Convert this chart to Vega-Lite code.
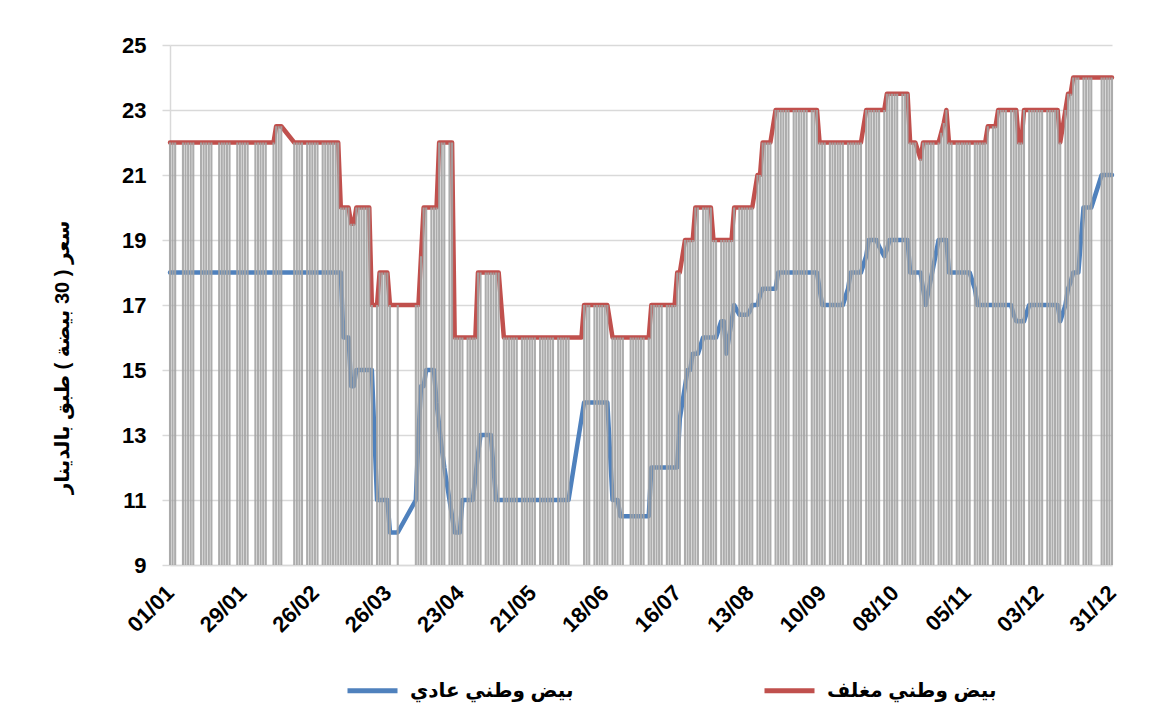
{
  "$schema": "https://vega.github.io/schema/vega-lite/v6.json",
  "width": 942,
  "height": 520,
  "autosize": {"type": "none"},
  "padding": {"left": 170, "top": 45, "right": 38, "bottom": 163},
  "background": "white",
  "config": {
    "view": {"stroke": null},
    "font": "Liberation Sans, DejaVu Sans, sans-serif"
  },
  "data": {
    "values": [
      {"date": "2019-01-01", "regular": 18, "packaged": 22},
      {"date": "2019-01-02", "regular": 18, "packaged": 22},
      {"date": "2019-01-03", "regular": 18, "packaged": 22},
      {"date": "2019-01-06", "regular": 18, "packaged": 22},
      {"date": "2019-01-07", "regular": 18, "packaged": 22},
      {"date": "2019-01-08", "regular": 18, "packaged": 22},
      {"date": "2019-01-09", "regular": 18, "packaged": 22},
      {"date": "2019-01-10", "regular": 18, "packaged": 22},
      {"date": "2019-01-13", "regular": 18, "packaged": 22},
      {"date": "2019-01-14", "regular": 18, "packaged": 22},
      {"date": "2019-01-15", "regular": 18, "packaged": 22},
      {"date": "2019-01-16", "regular": 18, "packaged": 22},
      {"date": "2019-01-17", "regular": 18, "packaged": 22},
      {"date": "2019-01-20", "regular": 18, "packaged": 22},
      {"date": "2019-01-21", "regular": 18, "packaged": 22},
      {"date": "2019-01-22", "regular": 18, "packaged": 22},
      {"date": "2019-01-23", "regular": 18, "packaged": 22},
      {"date": "2019-01-24", "regular": 18, "packaged": 22},
      {"date": "2019-01-27", "regular": 18, "packaged": 22},
      {"date": "2019-01-28", "regular": 18, "packaged": 22},
      {"date": "2019-01-29", "regular": 18, "packaged": 22},
      {"date": "2019-01-30", "regular": 18, "packaged": 22},
      {"date": "2019-01-31", "regular": 18, "packaged": 22},
      {"date": "2019-02-03", "regular": 18, "packaged": 22},
      {"date": "2019-02-04", "regular": 18, "packaged": 22},
      {"date": "2019-02-05", "regular": 18, "packaged": 22},
      {"date": "2019-02-06", "regular": 18, "packaged": 22},
      {"date": "2019-02-07", "regular": 18, "packaged": 22},
      {"date": "2019-02-10", "regular": 18, "packaged": 22},
      {"date": "2019-02-11", "regular": 18, "packaged": 22.5},
      {"date": "2019-02-12", "regular": 18, "packaged": 22.5},
      {"date": "2019-02-13", "regular": 18, "packaged": 22.5},
      {"date": "2019-02-18", "regular": 18, "packaged": 22},
      {"date": "2019-02-19", "regular": 18, "packaged": 22},
      {"date": "2019-02-20", "regular": 18, "packaged": 22},
      {"date": "2019-02-21", "regular": 18, "packaged": 22},
      {"date": "2019-02-23", "regular": 18, "packaged": 22},
      {"date": "2019-02-24", "regular": 18, "packaged": 22},
      {"date": "2019-02-25", "regular": 18, "packaged": 22},
      {"date": "2019-02-26", "regular": 18, "packaged": 22},
      {"date": "2019-02-27", "regular": 18, "packaged": 22},
      {"date": "2019-03-01", "regular": 18, "packaged": 22},
      {"date": "2019-03-02", "regular": 18, "packaged": 22},
      {"date": "2019-03-03", "regular": 18, "packaged": 22},
      {"date": "2019-03-04", "regular": 18, "packaged": 22},
      {"date": "2019-03-05", "regular": 18, "packaged": 22},
      {"date": "2019-03-06", "regular": 18, "packaged": 22},
      {"date": "2019-03-07", "regular": 18, "packaged": 22},
      {"date": "2019-03-08", "regular": 18, "packaged": 20},
      {"date": "2019-03-09", "regular": 16, "packaged": 20},
      {"date": "2019-03-10", "regular": 16, "packaged": 20},
      {"date": "2019-03-11", "regular": 16, "packaged": 20},
      {"date": "2019-03-12", "regular": 14.5, "packaged": 19.5},
      {"date": "2019-03-13", "regular": 14.5, "packaged": 19.5},
      {"date": "2019-03-14", "regular": 15, "packaged": 20},
      {"date": "2019-03-15", "regular": 15, "packaged": 20},
      {"date": "2019-03-16", "regular": 15, "packaged": 20},
      {"date": "2019-03-17", "regular": 15, "packaged": 20},
      {"date": "2019-03-18", "regular": 15, "packaged": 20},
      {"date": "2019-03-19", "regular": 15, "packaged": 20},
      {"date": "2019-03-20", "regular": 15, "packaged": 17},
      {"date": "2019-03-22", "regular": 11, "packaged": 17},
      {"date": "2019-03-23", "regular": 11, "packaged": 18},
      {"date": "2019-03-24", "regular": 11, "packaged": 18},
      {"date": "2019-03-25", "regular": 11, "packaged": 18},
      {"date": "2019-03-26", "regular": 11, "packaged": 18},
      {"date": "2019-03-27", "regular": 10, "packaged": 17},
      {"date": "2019-03-30", "regular": 10, "packaged": 17},
      {"date": "2019-04-06", "regular": 11, "packaged": 17},
      {"date": "2019-04-07", "regular": 13, "packaged": 17},
      {"date": "2019-04-08", "regular": 14.5, "packaged": 18.5},
      {"date": "2019-04-09", "regular": 14.5, "packaged": 20},
      {"date": "2019-04-10", "regular": 15, "packaged": 20},
      {"date": "2019-04-12", "regular": 15, "packaged": 20},
      {"date": "2019-04-13", "regular": 15, "packaged": 20},
      {"date": "2019-04-14", "regular": 14, "packaged": 20},
      {"date": "2019-04-15", "regular": 13.3, "packaged": 22},
      {"date": "2019-04-16", "regular": 12.6, "packaged": 22},
      {"date": "2019-04-17", "regular": 12, "packaged": 22},
      {"date": "2019-04-19", "regular": 11, "packaged": 22},
      {"date": "2019-04-20", "regular": 10.5, "packaged": 22},
      {"date": "2019-04-21", "regular": 10, "packaged": 16},
      {"date": "2019-04-22", "regular": 10, "packaged": 16},
      {"date": "2019-04-23", "regular": 10, "packaged": 16},
      {"date": "2019-04-24", "regular": 11, "packaged": 16},
      {"date": "2019-04-26", "regular": 11, "packaged": 16},
      {"date": "2019-04-27", "regular": 11, "packaged": 16},
      {"date": "2019-04-28", "regular": 11, "packaged": 16},
      {"date": "2019-04-29", "regular": 11.7, "packaged": 16},
      {"date": "2019-04-30", "regular": 12.4, "packaged": 18},
      {"date": "2019-05-01", "regular": 13, "packaged": 18},
      {"date": "2019-05-03", "regular": 13, "packaged": 18},
      {"date": "2019-05-04", "regular": 13, "packaged": 18},
      {"date": "2019-05-05", "regular": 13, "packaged": 18},
      {"date": "2019-05-06", "regular": 12, "packaged": 18},
      {"date": "2019-05-07", "regular": 11, "packaged": 18},
      {"date": "2019-05-08", "regular": 11, "packaged": 18},
      {"date": "2019-05-10", "regular": 11, "packaged": 16},
      {"date": "2019-05-11", "regular": 11, "packaged": 16},
      {"date": "2019-05-12", "regular": 11, "packaged": 16},
      {"date": "2019-05-13", "regular": 11, "packaged": 16},
      {"date": "2019-05-14", "regular": 11, "packaged": 16},
      {"date": "2019-05-15", "regular": 11, "packaged": 16},
      {"date": "2019-05-17", "regular": 11, "packaged": 16},
      {"date": "2019-05-18", "regular": 11, "packaged": 16},
      {"date": "2019-05-19", "regular": 11, "packaged": 16},
      {"date": "2019-05-20", "regular": 11, "packaged": 16},
      {"date": "2019-05-21", "regular": 11, "packaged": 16},
      {"date": "2019-05-22", "regular": 11, "packaged": 16},
      {"date": "2019-05-24", "regular": 11, "packaged": 16},
      {"date": "2019-05-25", "regular": 11, "packaged": 16},
      {"date": "2019-05-26", "regular": 11, "packaged": 16},
      {"date": "2019-05-27", "regular": 11, "packaged": 16},
      {"date": "2019-05-28", "regular": 11, "packaged": 16},
      {"date": "2019-05-29", "regular": 11, "packaged": 16},
      {"date": "2019-05-31", "regular": 11, "packaged": 16},
      {"date": "2019-06-01", "regular": 11, "packaged": 16},
      {"date": "2019-06-02", "regular": 11, "packaged": 16},
      {"date": "2019-06-03", "regular": 11, "packaged": 16},
      {"date": "2019-06-04", "regular": 11, "packaged": 16},
      {"date": "2019-06-09", "regular": null, "packaged": 16},
      {"date": "2019-06-10", "regular": 14, "packaged": 17},
      {"date": "2019-06-11", "regular": 14, "packaged": 17},
      {"date": "2019-06-12", "regular": 14, "packaged": 17},
      {"date": "2019-06-14", "regular": 14, "packaged": 17},
      {"date": "2019-06-15", "regular": 14, "packaged": 17},
      {"date": "2019-06-16", "regular": 14, "packaged": 17},
      {"date": "2019-06-17", "regular": 14, "packaged": 17},
      {"date": "2019-06-18", "regular": 14, "packaged": 17},
      {"date": "2019-06-19", "regular": 14, "packaged": 17},
      {"date": "2019-06-21", "regular": 11, "packaged": 16},
      {"date": "2019-06-22", "regular": 11, "packaged": 16},
      {"date": "2019-06-23", "regular": 11, "packaged": 16},
      {"date": "2019-06-24", "regular": 10.5, "packaged": 16},
      {"date": "2019-06-25", "regular": 10.5, "packaged": 16},
      {"date": "2019-06-28", "regular": 10.5, "packaged": 16},
      {"date": "2019-06-29", "regular": 10.5, "packaged": 16},
      {"date": "2019-06-30", "regular": 10.5, "packaged": 16},
      {"date": "2019-07-01", "regular": 10.5, "packaged": 16},
      {"date": "2019-07-02", "regular": 10.5, "packaged": 16},
      {"date": "2019-07-03", "regular": 10.5, "packaged": 16},
      {"date": "2019-07-05", "regular": 10.5, "packaged": 16},
      {"date": "2019-07-06", "regular": 12, "packaged": 17},
      {"date": "2019-07-07", "regular": 12, "packaged": 17},
      {"date": "2019-07-08", "regular": 12, "packaged": 17},
      {"date": "2019-07-09", "regular": 12, "packaged": 17},
      {"date": "2019-07-10", "regular": 12, "packaged": 17},
      {"date": "2019-07-12", "regular": 12, "packaged": 17},
      {"date": "2019-07-13", "regular": 12, "packaged": 17},
      {"date": "2019-07-14", "regular": 12, "packaged": 17},
      {"date": "2019-07-15", "regular": 12, "packaged": 17},
      {"date": "2019-07-16", "regular": 12, "packaged": 18},
      {"date": "2019-07-17", "regular": 13.5, "packaged": 18},
      {"date": "2019-07-19", "regular": 14.5, "packaged": 19},
      {"date": "2019-07-20", "regular": 15, "packaged": 19},
      {"date": "2019-07-21", "regular": 15, "packaged": 19},
      {"date": "2019-07-22", "regular": 15.5, "packaged": 19},
      {"date": "2019-07-23", "regular": 15.5, "packaged": 20},
      {"date": "2019-07-24", "regular": 15.5, "packaged": 20},
      {"date": "2019-07-26", "regular": 16, "packaged": 20},
      {"date": "2019-07-27", "regular": 16, "packaged": 20},
      {"date": "2019-07-28", "regular": 16, "packaged": 20},
      {"date": "2019-07-29", "regular": 16, "packaged": 20},
      {"date": "2019-07-30", "regular": 16, "packaged": 19},
      {"date": "2019-07-31", "regular": 16, "packaged": 19},
      {"date": "2019-08-02", "regular": 16.5, "packaged": 19},
      {"date": "2019-08-03", "regular": 16.5, "packaged": 19},
      {"date": "2019-08-04", "regular": 15.5, "packaged": 19},
      {"date": "2019-08-05", "regular": 16, "packaged": 19},
      {"date": "2019-08-06", "regular": 16.5, "packaged": 19},
      {"date": "2019-08-07", "regular": 17, "packaged": 20},
      {"date": "2019-08-09", "regular": 16.7, "packaged": 20},
      {"date": "2019-08-10", "regular": 16.7, "packaged": 20},
      {"date": "2019-08-11", "regular": 16.7, "packaged": 20},
      {"date": "2019-08-12", "regular": 16.7, "packaged": 20},
      {"date": "2019-08-13", "regular": 16.8, "packaged": 20},
      {"date": "2019-08-14", "regular": 17, "packaged": 20},
      {"date": "2019-08-16", "regular": 17, "packaged": 21},
      {"date": "2019-08-17", "regular": 17.3, "packaged": 21},
      {"date": "2019-08-18", "regular": 17.5, "packaged": 22},
      {"date": "2019-08-19", "regular": 17.5, "packaged": 22},
      {"date": "2019-08-20", "regular": 17.5, "packaged": 22},
      {"date": "2019-08-21", "regular": 17.5, "packaged": 22},
      {"date": "2019-08-23", "regular": 17.5, "packaged": 23},
      {"date": "2019-08-24", "regular": 18, "packaged": 23},
      {"date": "2019-08-25", "regular": 18, "packaged": 23},
      {"date": "2019-08-26", "regular": 18, "packaged": 23},
      {"date": "2019-08-27", "regular": 18, "packaged": 23},
      {"date": "2019-08-28", "regular": 18, "packaged": 23},
      {"date": "2019-08-30", "regular": 18, "packaged": 23},
      {"date": "2019-08-31", "regular": 18, "packaged": 23},
      {"date": "2019-09-01", "regular": 18, "packaged": 23},
      {"date": "2019-09-02", "regular": 18, "packaged": 23},
      {"date": "2019-09-03", "regular": 18, "packaged": 23},
      {"date": "2019-09-04", "regular": 18, "packaged": 23},
      {"date": "2019-09-06", "regular": 18, "packaged": 23},
      {"date": "2019-09-07", "regular": 18, "packaged": 23},
      {"date": "2019-09-08", "regular": 18, "packaged": 23},
      {"date": "2019-09-09", "regular": 17.5, "packaged": 22},
      {"date": "2019-09-10", "regular": 17, "packaged": 22},
      {"date": "2019-09-11", "regular": 17, "packaged": 22},
      {"date": "2019-09-13", "regular": 17, "packaged": 22},
      {"date": "2019-09-14", "regular": 17, "packaged": 22},
      {"date": "2019-09-15", "regular": 17, "packaged": 22},
      {"date": "2019-09-16", "regular": 17, "packaged": 22},
      {"date": "2019-09-17", "regular": 17, "packaged": 22},
      {"date": "2019-09-18", "regular": 17, "packaged": 22},
      {"date": "2019-09-20", "regular": 17.5, "packaged": 22},
      {"date": "2019-09-21", "regular": 18, "packaged": 22},
      {"date": "2019-09-22", "regular": 18, "packaged": 22},
      {"date": "2019-09-23", "regular": 18, "packaged": 22},
      {"date": "2019-09-24", "regular": 18, "packaged": 22},
      {"date": "2019-09-25", "regular": 18, "packaged": 22},
      {"date": "2019-09-27", "regular": 18.5, "packaged": 23},
      {"date": "2019-09-28", "regular": 19, "packaged": 23},
      {"date": "2019-09-29", "regular": 19, "packaged": 23},
      {"date": "2019-09-30", "regular": 19, "packaged": 23},
      {"date": "2019-10-01", "regular": 19, "packaged": 23},
      {"date": "2019-10-02", "regular": 18.8, "packaged": 23},
      {"date": "2019-10-04", "regular": 18.5, "packaged": 23},
      {"date": "2019-10-05", "regular": 18.7, "packaged": 23.5},
      {"date": "2019-10-06", "regular": 19, "packaged": 23.5},
      {"date": "2019-10-07", "regular": 19, "packaged": 23.5},
      {"date": "2019-10-08", "regular": 19, "packaged": 23.5},
      {"date": "2019-10-09", "regular": 19, "packaged": 23.5},
      {"date": "2019-10-11", "regular": 19, "packaged": 23.5},
      {"date": "2019-10-12", "regular": 19, "packaged": 23.5},
      {"date": "2019-10-13", "regular": 19, "packaged": 23.5},
      {"date": "2019-10-14", "regular": 18, "packaged": 22},
      {"date": "2019-10-15", "regular": 18, "packaged": 22},
      {"date": "2019-10-16", "regular": 18, "packaged": 22},
      {"date": "2019-10-18", "regular": 18, "packaged": 21.5},
      {"date": "2019-10-19", "regular": 17.5, "packaged": 22},
      {"date": "2019-10-20", "regular": 17, "packaged": 22},
      {"date": "2019-10-21", "regular": 17.4, "packaged": 22},
      {"date": "2019-10-22", "regular": 17.8, "packaged": 22},
      {"date": "2019-10-23", "regular": 18.2, "packaged": 22},
      {"date": "2019-10-25", "regular": 19, "packaged": 22},
      {"date": "2019-10-26", "regular": 19, "packaged": 22.3},
      {"date": "2019-10-27", "regular": 19, "packaged": 22.6},
      {"date": "2019-10-28", "regular": 19, "packaged": 23},
      {"date": "2019-10-29", "regular": 18, "packaged": 22},
      {"date": "2019-10-30", "regular": 18, "packaged": 22},
      {"date": "2019-11-01", "regular": 18, "packaged": 22},
      {"date": "2019-11-02", "regular": 18, "packaged": 22},
      {"date": "2019-11-03", "regular": 18, "packaged": 22},
      {"date": "2019-11-04", "regular": 18, "packaged": 22},
      {"date": "2019-11-05", "regular": 18, "packaged": 22},
      {"date": "2019-11-06", "regular": 18, "packaged": 22},
      {"date": "2019-11-08", "regular": 17.5, "packaged": 22},
      {"date": "2019-11-09", "regular": 17, "packaged": 22},
      {"date": "2019-11-10", "regular": 17, "packaged": 22},
      {"date": "2019-11-11", "regular": 17, "packaged": 22},
      {"date": "2019-11-12", "regular": 17, "packaged": 22},
      {"date": "2019-11-13", "regular": 17, "packaged": 22.5},
      {"date": "2019-11-15", "regular": 17, "packaged": 22.5},
      {"date": "2019-11-16", "regular": 17, "packaged": 22.5},
      {"date": "2019-11-17", "regular": 17, "packaged": 23},
      {"date": "2019-11-18", "regular": 17, "packaged": 23},
      {"date": "2019-11-19", "regular": 17, "packaged": 23},
      {"date": "2019-11-20", "regular": 17, "packaged": 23},
      {"date": "2019-11-22", "regular": 17, "packaged": 23},
      {"date": "2019-11-23", "regular": 16.7, "packaged": 23},
      {"date": "2019-11-24", "regular": 16.5, "packaged": 23},
      {"date": "2019-11-25", "regular": 16.5, "packaged": 22},
      {"date": "2019-11-26", "regular": 16.5, "packaged": 22},
      {"date": "2019-11-27", "regular": 16.5, "packaged": 23},
      {"date": "2019-11-29", "regular": 17, "packaged": 23},
      {"date": "2019-11-30", "regular": 17, "packaged": 23},
      {"date": "2019-12-01", "regular": 17, "packaged": 23},
      {"date": "2019-12-02", "regular": 17, "packaged": 23},
      {"date": "2019-12-03", "regular": 17, "packaged": 23},
      {"date": "2019-12-04", "regular": 17, "packaged": 23},
      {"date": "2019-12-06", "regular": 17, "packaged": 23},
      {"date": "2019-12-07", "regular": 17, "packaged": 23},
      {"date": "2019-12-08", "regular": 17, "packaged": 23},
      {"date": "2019-12-09", "regular": 17, "packaged": 23},
      {"date": "2019-12-10", "regular": 17, "packaged": 23},
      {"date": "2019-12-11", "regular": 16.5, "packaged": 22},
      {"date": "2019-12-13", "regular": 17, "packaged": 23},
      {"date": "2019-12-14", "regular": 17.5, "packaged": 23.5},
      {"date": "2019-12-15", "regular": 17.7, "packaged": 23.5},
      {"date": "2019-12-16", "regular": 18, "packaged": 24},
      {"date": "2019-12-17", "regular": 18, "packaged": 24},
      {"date": "2019-12-18", "regular": 18, "packaged": 24},
      {"date": "2019-12-20", "regular": 20, "packaged": 24},
      {"date": "2019-12-21", "regular": 20, "packaged": 24},
      {"date": "2019-12-22", "regular": 20, "packaged": 24},
      {"date": "2019-12-23", "regular": 20, "packaged": 24},
      {"date": "2019-12-27", "regular": 21, "packaged": 24},
      {"date": "2019-12-28", "regular": 21, "packaged": 24},
      {"date": "2019-12-29", "regular": 21, "packaged": 24},
      {"date": "2019-12-30", "regular": 21, "packaged": 24},
      {"date": "2019-12-31", "regular": 21, "packaged": 24}
    ]
  },
  "encoding": {
    "x": {
      "field": "date",
      "type": "temporal",
      "scale": {
        "type": "utc",
        "domain": [
          {"year": 2019, "month": 1, "date": 1, "utc": true},
          {"year": 2019, "month": 12, "date": 31, "utc": true}
        ],
        "nice": false
      },
      "axis": {
        "title": null,
        "values": [
          {"year": 2019, "month": 1, "date": 1, "utc": true},
          {"year": 2019, "month": 1, "date": 29, "utc": true},
          {"year": 2019, "month": 2, "date": 26, "utc": true},
          {"year": 2019, "month": 3, "date": 26, "utc": true},
          {"year": 2019, "month": 4, "date": 23, "utc": true},
          {"year": 2019, "month": 5, "date": 21, "utc": true},
          {"year": 2019, "month": 6, "date": 18, "utc": true},
          {"year": 2019, "month": 7, "date": 16, "utc": true},
          {"year": 2019, "month": 8, "date": 13, "utc": true},
          {"year": 2019, "month": 9, "date": 10, "utc": true},
          {"year": 2019, "month": 10, "date": 8, "utc": true},
          {"year": 2019, "month": 11, "date": 5, "utc": true},
          {"year": 2019, "month": 12, "date": 3, "utc": true},
          {"year": 2019, "month": 12, "date": 31, "utc": true}
        ],
        "labelExpr": "utcFormat(datum.value, '%d/%m')",
        "labelAngle": -45,
        "labelAlign": "right",
        "labelBaseline": "middle",
        "labelFontSize": 22,
        "labelFontWeight": "bold",
        "labelColor": "#000000",
        "labelPadding": 24,
        "labelOverlap": false,
        "labelFlush": false,
        "ticks": false,
        "grid": false,
        "domainColor": "#d9d9d9",
        "domainWidth": 1.5
      }
    }
  },
  "layer": [
    {
      "transform": [
        {"fold": ["regular", "packaged"], "as": ["series", "price"]},
        {"filter": "isValid(datum.price)"}
      ],
      "mark": {"type": "line", "strokeWidth": 4.5, "strokeJoin": "round", "strokeCap": "round"},
      "encoding": {
        "y": {
          "field": "price",
          "type": "quantitative",
          "scale": {"domain": [9, 25], "nice": false, "zero": false},
          "axis": {
            "title": "سعر ( 30 بيضة ) طبق بالدينار",
            "titleFontSize": 20,
            "titleFontWeight": "bold",
            "titleColor": "#000000",
            "titleAngle": 270,
            "titleAlign": "center",
            "titleBaseline": "middle",
            "titleX": -108,
            "titleY": 312,
            "values": [9, 11, 13, 15, 17, 19, 21, 23, 25],
            "labelFontSize": 22,
            "labelFontWeight": "bold",
            "labelColor": "#000000",
            "labelPadding": 16,
            "tickSize": 8,
            "tickColor": "#d9d9d9",
            "tickWidth": 1.5,
            "domainColor": "#d9d9d9",
            "domainWidth": 1.5,
            "gridColor": "#d9d9d9",
            "gridWidth": 1.5
          }
        },
        "color": {
          "field": "series",
          "type": "nominal",
          "scale": {"domain": ["regular", "packaged"], "range": ["#4f81bd", "#c0504d"]},
          "legend": {
            "title": null,
            "orient": "none",
            "legendX": 175,
            "legendY": 618,
            "direction": "horizontal",
            "symbolType": "stroke",
            "symbolSize": 2500,
            "symbolStrokeWidth": 5,
            "labelFontSize": 20,
            "labelFontWeight": "bold",
            "labelColor": "#000000",
            "labelOffset": 10,
            "labelLimit": 400,
            "columnPadding": 180,
            "labelExpr": "datum.value == 'regular' ? 'بيض وطني عادي' : 'بيض وطني مغلف'"
          }
        }
      }
    },
    {
      "transform": [{"filter": "isValid(datum.regular)"}],
      "mark": {"type": "rule", "color": "#a3a3a3", "strokeWidth": 2.1, "opacity": 0.9},
      "encoding": {
        "y": {"field": "packaged", "type": "quantitative"},
        "y2": {"datum": 9}
      }
    }
  ]
}
